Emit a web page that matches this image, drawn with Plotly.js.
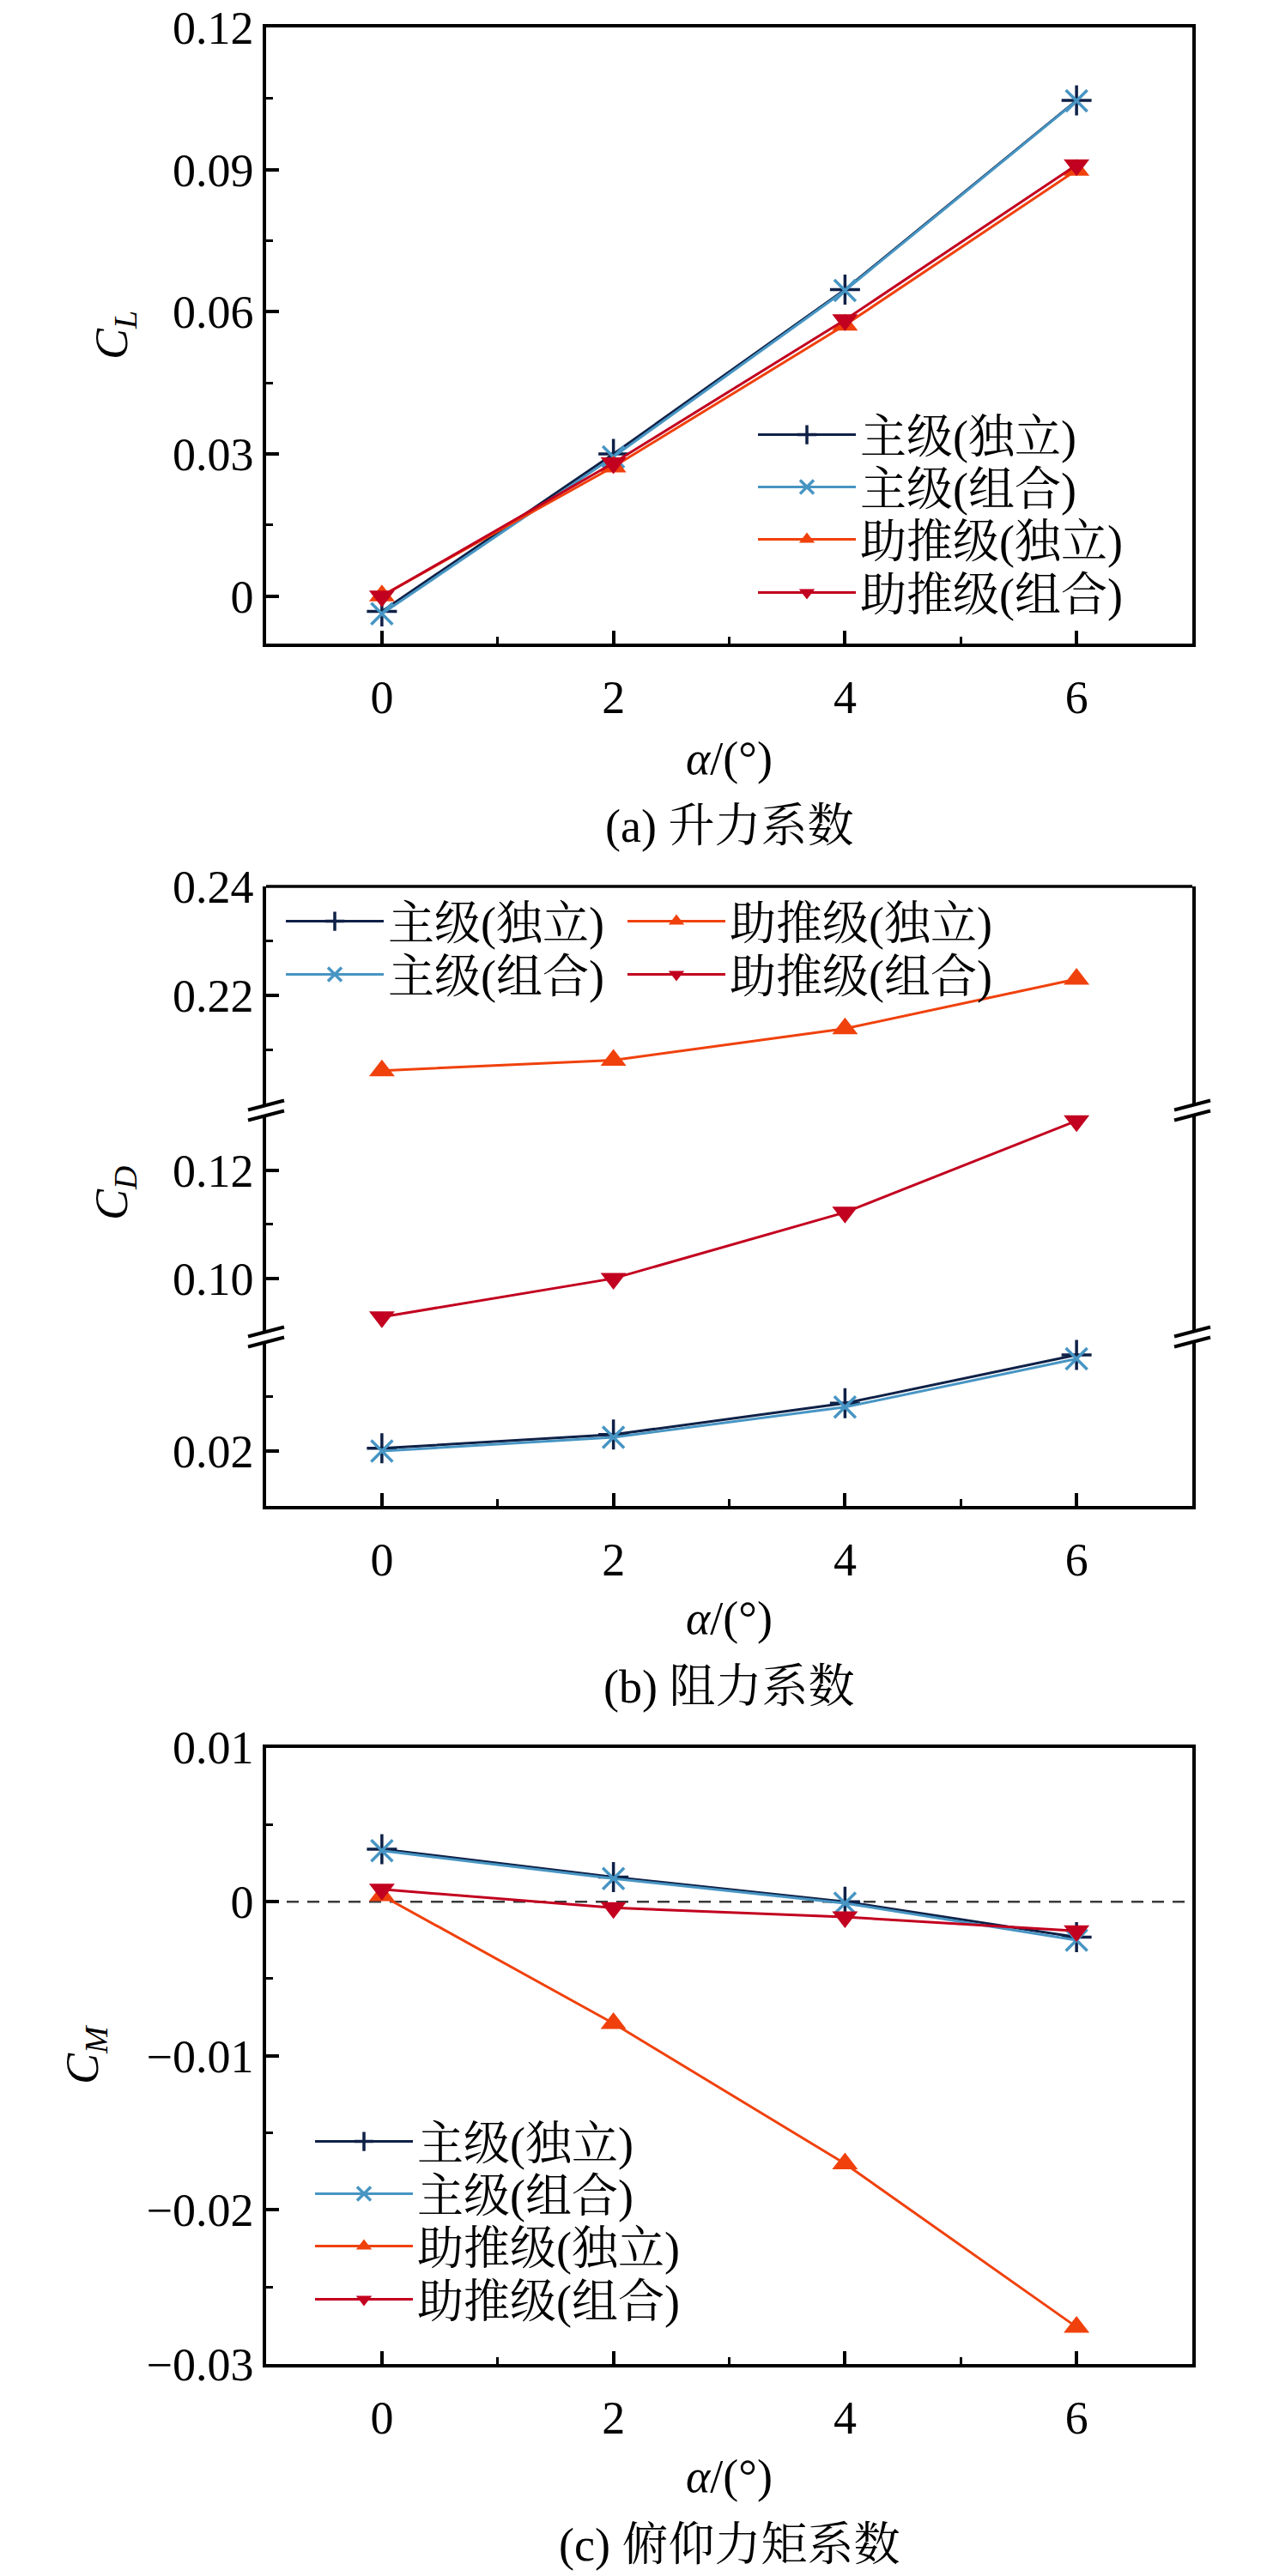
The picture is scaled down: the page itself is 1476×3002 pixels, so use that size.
<!DOCTYPE html>
<html lang="zh">
<head>
<meta charset="UTF-8">
<title>升力、阻力、俯仰力矩系数</title>
<script src="https://cdn.plot.ly/plotly-3.0.1.min.js"></script>
<style>
  html, body { margin: 0; padding: 0; background: #fff; }
  #chart { width: 1476px; height: 3002px; }
</style>
</head>
<body>
<div id="chart"></div>
<script>
// angle of attack
const alpha = [0, 2, 4, 6];

const seriesNames = ['主级(独立)', '主级(组合)', '助推级(独立)', '助推级(组合)'];

// (a) lift coefficient
const clMainSolo  = [-0.0032, 0.0300, 0.0647, 0.1046];
const clMainComb  = [-0.0037, 0.0294, 0.0645, 0.1045];
const clBoostSolo = [0.0001, 0.0273, 0.0572, 0.0899];
const clBoostComb = [0.0000, 0.0281, 0.0583, 0.0910];

// (b) drag coefficient (broken axis)
const cdMainSolo  = [0.0205, 0.0230, 0.0287, 0.0375];
const cdMainComb  = [0.0200, 0.0225, 0.0280, 0.0368];
const cdBoostSolo = [0.2062, 0.2081, 0.2139, 0.2230];
const cdBoostComb = [0.0929, 0.1000, 0.1122, 0.1291];

// (c) pitching moment coefficient
const cmMainSolo  = [0.0034, 0.0016, 0.0000, -0.0023];
const cmMainComb  = [0.0033, 0.0015, -0.0001, -0.0025];
const cmBoostSolo = [0.0004, -0.0079, -0.0170, -0.0276];
const cmBoostComb = [0.0008, -0.0004, -0.0010, -0.0019];

// tick values of the broken drag axis
const cdTicksLow  = [0.02];
const cdMinorLow  = [0.03];
const cdTicksMid  = [0.10, 0.12];
const cdMinorMid  = [0.11];
const cdTicksHigh = [0.22, 0.24];
const cdMinorHigh = [0.21, 0.23];

const captions = ['(a) 升力系数', '(b) 阻力系数', '(c) 俯仰力矩系数'];
const yTitles = ['<i>C<sub>L</sub></i>', '<i>C<sub>D</sub></i>', '<i>C<sub>M</sub></i>'];
const xTitle = '<i>α</i>/(°)';

// ---------------------------------------------------------------
const W = 1476, H = 3002;
const px = v => v / W;
const py = v => 1 - v / H;

const FONT = 'Liberation Serif, "Noto Serif CJK SC", "Noto Sans CJK SC", serif';
const FS = 54;

const styles = [
  { color: '#0f2147', symbol: 'cross-thin', size: 25, lw: 3.5 },
  { color: '#4795c3', symbol: 'x-thin', size: 25, lw: 3.5 },
  { color: '#f0410c', symbol: 'triangle-up', size: 26, lw: 0 },
  { color: '#c2001f', symbol: 'triangle-down', size: 26, lw: 0 }
];

const panels = [
  { xa: 'x',  ya: ['y', 'y', 'y', 'y'],    data: [clMainSolo, clMainComb, clBoostSolo, clBoostComb] },
  { xa: 'x2', ya: ['y2', 'y2', 'y4', 'y3'], data: [cdMainSolo, cdMainComb, cdBoostSolo, cdBoostComb] },
  { xa: 'x3', ya: ['y5', 'y5', 'y5', 'y5'], data: [cmMainSolo, cmMainComb, cmBoostSolo, cmBoostComb] }
];

// legend placement: [line start px, row centre px]
const legendSpots = [
  [[881, 507], [881, 568], [881, 629], [881, 691]],
  [[331, 1074], [331, 1136], [729, 1074], [729, 1136]],
  [[365, 2496], [365, 2557], [365, 2618], [365, 2680]]
];

const traces = [];
const layout = {
  width: W, height: H,
  margin: { l: 0, r: 0, t: 0, b: 0 },
  paper_bgcolor: '#fff', plot_bgcolor: '#fff',
  font: { family: FONT, size: FS, color: '#000' },
  showlegend: true,
  shapes: [],
  annotations: []
};

panels.forEach((p, pi) => {
  seriesNames.forEach((name, si) => {
    const idx = pi * 4 + si + 1;
    const lg = idx === 1 ? 'legend' : 'legend' + idx;
    const st = styles[si];
    traces.push({
      x: alpha, y: p.data[si],
      xaxis: p.xa, yaxis: p.ya[si],
      type: 'scatter', mode: 'lines+markers',
      name: name,
      legend: lg,
      line: { color: st.color, width: 3 },
      marker: { symbol: st.symbol, size: st.size, color: st.color,
                line: { color: st.color, width: st.lw } },
      cliponaxis: false
    });
    const spot = legendSpots[pi][si];
    layout[lg] = {
      x: px(spot[0] - 3), y: py(spot[1]),
      xanchor: 'left', yanchor: 'middle',
      bgcolor: 'rgba(0,0,0,0)', borderwidth: 0,
      itemwidth: 114,
      font: { family: FONT, size: FS, color: '#000' }
    };
  });
});

const axisBase = {
  showline: true, linecolor: '#000', linewidth: 3.5,
  ticks: 'inside', ticklen: 15, tickwidth: 3.5, tickcolor: '#000',
  showgrid: false, zeroline: false,
  tickfont: { family: FONT, size: FS, color: '#000' },
  fixedrange: true
};
const minorBase = { ticks: 'inside', ticklen: 8, tickwidth: 3, tickcolor: '#000', showgrid: false };

const xDomain = [px(310), px(1389)];
function xAxis(anchor, mirror) {
  return Object.assign({}, axisBase, {
    domain: xDomain, anchor: anchor, range: [-1, 7],
    tickmode: 'linear', tick0: 0, dtick: 2, mirror: mirror,
    ticklabelstandoff: 12,
    minor: Object.assign({}, minorBase, { tick0: 0, dtick: 1 })
  });
}

layout.xaxis  = xAxis('y', true);
layout.xaxis2 = xAxis('y2', false);
layout.xaxis3 = xAxis('y5', true);

layout.yaxis = Object.assign({}, axisBase, {
  domain: [py(750), py(32)], anchor: 'x', range: [-0.01, 0.12],
  tickmode: 'linear', tick0: 0, dtick: 0.03, mirror: true,
  minor: Object.assign({}, minorBase, { tick0: 0, dtick: 0.015 })
});

function cdAxis(dom, range, vals, minorVals) {
  return Object.assign({}, axisBase, {
    domain: dom, anchor: 'x2', range: range,
    tickmode: 'array', tickvals: vals, tickformat: '.2f', mirror: true,
    minor: Object.assign({}, minorBase, { tickmode: 'array', tickvals: minorVals })
  });
}
layout.yaxis2 = cdAxis([py(1755), py(1563)], [0.01, 0.04], cdTicksLow, cdMinorLow);
layout.yaxis3 = cdAxis([py(1553), py(1300.5)], [0.09, 0.13], cdTicksMid, cdMinorMid);
layout.yaxis4 = cdAxis([py(1287), py(1033)], [0.20, 0.24], cdTicksHigh, cdMinorHigh);

layout.yaxis5 = Object.assign({}, axisBase, {
  domain: [py(2755), py(2036.5)], anchor: 'x3', range: [-0.03, 0.01],
  tickmode: 'linear', tick0: 0, dtick: 0.01, mirror: true,
  minor: Object.assign({}, minorBase, { tick0: 0, dtick: 0.005 })
});

// top frame line of the broken-axis panel
layout.shapes.push({
  type: 'line', xref: 'x2 domain', yref: 'y4 domain',
  x0: 0, x1: 1, y0: 1, y1: 1,
  line: { color: '#000', width: 3.5 }
});

// axis-break marks
[1294, 1558].forEach(cy => {
  [0, 1].forEach(side => {
    [6, -6].forEach(k => {
      layout.shapes.push({
        type: 'line', xref: 'x2 domain', yref: 'paper',
        xsizemode: 'pixel', xanchor: side, x0: -21, x1: 21,
        ysizemode: 'pixel', yanchor: py(cy), y0: k - 5.5, y1: k + 5.5,
        line: { color: '#000', width: 4 }
      });
    });
  });
});

// dashed zero line in (c)
layout.shapes.push({
  type: 'line', xref: 'x3 domain', yref: 'y5',
  x0: 0, x1: 1, y0: 0, y1: 0, layer: 'below',
  line: { color: '#3a3a3a', width: 2.5, dash: '14px,10px' }
});

// titles & captions
const xTitleY = [884, 1886, 2886];
const captionY = [963, 1966, 2966];
const yTitlePos = [[133, 391], [133, 1391], [99, 2394]];
for (let i = 0; i < 3; i++) {
  layout.annotations.push({
    text: xTitle, xref: 'paper', yref: 'paper', x: px(849), y: py(xTitleY[i]),
    xanchor: 'center', yanchor: 'middle', showarrow: false,
    font: { family: FONT, size: FS, color: '#000' }
  });
  layout.annotations.push({
    text: captions[i], xref: 'paper', yref: 'paper', x: px(849), y: py(captionY[i]),
    xanchor: 'center', yanchor: 'middle', showarrow: false,
    font: { family: FONT, size: FS, color: '#000' }
  });
  layout.annotations.push({
    text: yTitles[i], xref: 'paper', yref: 'paper',
    x: px(yTitlePos[i][0]), y: py(yTitlePos[i][1]),
    xanchor: 'center', yanchor: 'middle', textangle: -90, showarrow: false,
    font: { family: FONT, size: FS, color: '#000' }
  });
}

Plotly.newPlot('chart', traces, layout, { displayModeBar: false, responsive: false });
</script>
</body>
</html>
